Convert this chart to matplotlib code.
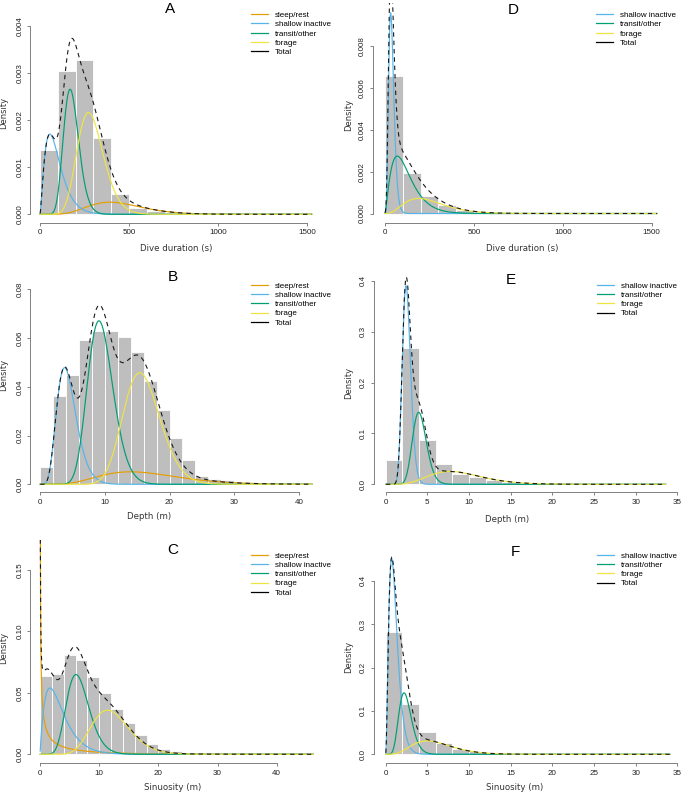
import math
import numpy as np
import matplotlib
matplotlib.use("Agg")
import matplotlib.pyplot as plt
from matplotlib.lines import Line2D

W, H = 685, 794

state_names = ["sleep/rest", "shallow inactive", "transit/other", "forage"]
state_colors = ["#E69F00", "#56B4E9", "#009E73", "#F0E442"]

# ---- values ----
# A: dive duration, 4 states (sleep, shallow, transit, forage)
a_bin = 100
a_hist = [0.00137, 0.00304, 0.00328, 0.00162, 0.00044, 0.00014, 0.00007, 0.00003, 0.00001, 0.00001]
a_mean = [450, 92.5, 179.8, 292]
a_sd = [160, 58.5, 44, 76]
a_weight = [0.0975, 0.204, 0.285, 0.399]

# D: dive duration, 3 states (shallow, transit, forage)
d_bin = 100
d_hist = [0.00657, 0.00194, 0.00083, 0.00040, 0.00015, 0.00006, 0.00003, 0.00001]
d_mean = [38.6, 118.3, 253]
d_sd = [16, 76.4, 126.6]
d_weight = [0.356, 0.425, 0.203]

# B: depth, 4 states
b_bin = 2
b_hist = [0.0071, 0.0362, 0.0448, 0.0592, 0.0630, 0.0630, 0.0605, 0.0544, 0.0425, 0.0304,
          0.0188, 0.0099, 0.0034, 0.0023, 0.0016, 0.0010, 0.0006, 0.0004, 0.0002, 0.0001, 0.0001]
b_mean = [16.55, 4.38, 9.52, 15.93]
b_sd = [6.5, 1.6, 2.0, 2.9]
b_weight = [0.078, 0.181, 0.330, 0.328]

# E: depth, 3 states
e_bin = 2
e_hist = [0.047, 0.267, 0.088, 0.039, 0.021, 0.0138, 0.0079, 0.0046, 0.0025, 0.0012, 0.0006, 0.0003]
e_mean = [2.54, 4.135, 8.99]
e_sd = [0.51, 0.85, 3.4]
e_weight = [0.49, 0.296, 0.202]

# C: sinuosity, 4 states
c_bin = 2
c_hist = [0.064, 0.0654, 0.0811, 0.0768, 0.0632, 0.0502, 0.0369, 0.0252, 0.0157, 0.0081,
          0.0046, 0.0024, 0.0011, 0.0005, 0.0002]
c_mean = [3.0, 3.38, 6.68, 12.29]
c_sd = [5.48, 2.39, 2.0, 3.3]
c_weight = [0.14, 0.248, 0.313, 0.288]

# F: sinuosity, 3 states
f_bin = 2
f_hist = [0.281, 0.1167, 0.0507, 0.0253, 0.013, 0.0069, 0.0035, 0.0017, 0.0008, 0.0004]
f_mean = [1.08, 2.46, 6.1]
f_sd = [0.624, 0.8, 2.6]
f_weight = [0.60, 0.271, 0.186]


def gamma_pdf(x, mean, sd):
    k = (mean / sd) ** 2
    theta = sd ** 2 / mean
    return np.exp((k - 1) * np.log(x) - x / theta - math.lgamma(k) - k * np.log(theta))


def px(x, y):
    return x / W, 1 - y / H


fig = plt.figure(figsize=(W / 100, H / 100), dpi=100)


def panel(p):
    L, R, T, B = p["box"]
    ax = fig.add_axes([L / W, 1 - B / H, (R - L) / W, (B - T) / H])
    (x0p, x0v), (x1p, x1v) = p["xmap"]
    (y0p, y0v), (y1p, y1v) = p["ymap"]
    bx = (x1p - x0p) / (x1v - x0v)
    by = (y1p - y0p) / (y1v - y0v)
    ax.set_xlim((L - x0p) / bx + x0v, (R - x0p) / bx + x0v)
    ax.set_ylim((B - y0p) / by + y0v, (T - y0p) / by + y0v)

    hist = p["hist"]
    edges = np.arange(len(hist)) * p["bin"]
    ax.bar(edges, hist, width=p["bin"], align="edge", color="#BEBEBE",
           edgecolor="white", linewidth=0.6, zorder=1)

    x = np.linspace(p["xmax"] / 1500, p["xmax"], 1500)
    total = np.zeros_like(x)
    for s, m, sd, w in zip(p["states"], p["mean"], p["sd"], p["weight"]):
        yy = w * gamma_pdf(x, m, sd)
        total += yy
        ax.plot(x, yy, color=state_colors[s], lw=0.85, zorder=2)
    ax.plot(x, total, color="#1a1a1a", lw=0.8, ls=(0, (4, 3.5)), zorder=3)

    for side in ["top", "right"]:
        ax.spines[side].set_visible(False)
    for side in ["left", "bottom"]:
        ax.spines[side].set_color("#808080")
        ax.spines[side].set_linewidth(0.7)
    ax.spines["bottom"].set_bounds(p["xticks"][0], p["xticks"][-1])
    ax.spines["left"].set_bounds(p["yticks"][0], p["yticks"][-1])
    ax.set_xticks(p["xticks"], labels=[str(t) for t in p["xticks"]])
    ax.set_yticks(p["yticks"], labels=p["ylabels"])
    ax.tick_params(length=1.9, width=0.7, color="#808080", labelsize=5.8,
                   labelcolor="#222222")
    ax.tick_params(axis="x", pad=2.6)
    ax.tick_params(axis="y", pad=p["ypad"], labelrotation=90)
    for lab in ax.get_yticklabels() + ax.get_xticklabels():
        lab.set_family("Liberation Sans")
    for lab in ax.get_yticklabels():
        lab.set_va("center")

    handles = [Line2D([], [], color=state_colors[s], lw=0.9) for s in p["states"]]
    handles.append(Line2D([], [], color="black", lw=0.9))
    labels = [state_names[s] for s in p["states"]] + ["Total"]
    ax.legend(handles, labels, loc="upper left", bbox_to_anchor=px(*p["leg"]),
              bbox_transform=fig.transFigure, frameon=False,
              prop={"family": "Liberation Sans", "size": 5.8},
              handlelength=2.1, handletextpad=0.9, labelspacing=0.2,
              borderpad=0, borderaxespad=0)

    fig.text(*px(*p["title_xy"]), p["title"], fontsize=11, family="Liberation Sans",
             ha="center", va="center")
    fig.text(*px(*p["xlab_xy"]), p["xlabel"], fontsize=6.2, ha="center", va="center",
             color="#333333")
    fig.text(*px(*p["ylab_xy"]), "Density", fontsize=6.0, ha="center", va="center",
             rotation=90, color="#333333")


panels = [
    dict(box=(29.5, 325, 5, 222.7), xmap=((40, 0), (307, 1500)), ymap=((214.3, 0), (25.6, 0.004)),
         hist=a_hist, bin=a_bin, states=[0, 1, 2, 3], mean=a_mean, sd=a_sd, weight=a_weight,
         xmax=1526, xticks=[0, 500, 1000, 1500], yticks=[0, 0.001, 0.002, 0.003, 0.004],
         ylabels=["0.000", "0.001", "0.002", "0.003", "0.004"], ypad=2.4,
         leg=(250.7, 11.4), title="A", title_xy=(170, 9), xlabel="Dive duration (s)",
         xlab_xy=(176, 248.3), ylab_xy=(4, 113)),
    dict(box=(373.3, 680, 3, 222.7), xmap=((385, 0), (651.7, 1500)), ymap=((213.5, 0), (46, 0.008)),
         hist=d_hist, bin=d_bin, states=[1, 2, 3], mean=d_mean, sd=d_sd, weight=d_weight,
         xmax=1530, xticks=[0, 500, 1000, 1500], yticks=[0, 0.002, 0.004, 0.006, 0.008],
         ylabels=["0.000", "0.002", "0.004", "0.006", "0.008"], ypad=3.3,
         leg=(595.7, 11.4), title="D", title_xy=(513, 10), xlabel="Dive duration (s)",
         xlab_xy=(521.7, 248.3), ylab_xy=(348.3, 115)),
    dict(box=(29.5, 325, 270, 492.3), xmap=((40, 0), (299, 40)), ymap=((484.3, 0), (289.3, 0.08)),
         hist=b_hist, bin=b_bin, states=[0, 1, 2, 3], mean=b_mean, sd=b_sd, weight=b_weight,
         xmax=42, xticks=[0, 10, 20, 30, 40], yticks=[0, 0.02, 0.04, 0.06, 0.08],
         ylabels=["0.00", "0.02", "0.04", "0.06", "0.08"], ypad=2.4,
         leg=(250.7, 282), title="B", title_xy=(173, 277), xlabel="Depth (m)",
         xlab_xy=(149, 516.7), ylab_xy=(4, 375)),
    dict(box=(374, 682, 270, 492.3), xmap=((385.7, 0), (677.3, 35)), ymap=((484.3, 0), (280.7, 0.4)),
         hist=e_hist, bin=e_bin, states=[1, 2, 3], mean=e_mean, sd=e_sd, weight=e_weight,
         xmax=33.6, xticks=[0, 5, 10, 15, 20, 25, 30, 35], yticks=[0, 0.1, 0.2, 0.3, 0.4],
         ylabels=["0.0", "0.1", "0.2", "0.3", "0.4"], ypad=3.3,
         leg=(596.7, 282), title="E", title_xy=(511, 280), xlabel="Depth (m)",
         xlab_xy=(506.7, 519.3), ylab_xy=(348.3, 383)),
    dict(box=(30, 325, 540, 763.3), xmap=((40, 0), (276.7, 40)), ymap=((754.3, 0), (570, 0.15)),
         hist=c_hist, bin=c_bin, states=[0, 1, 2, 3], mean=c_mean, sd=c_sd, weight=c_weight,
         xmax=46.2, xticks=[0, 10, 20, 30, 40], yticks=[0, 0.05, 0.10, 0.15],
         ylabels=["0.00", "0.05", "0.10", "0.15"], ypad=2.4,
         leg=(250.7, 552), title="C", title_xy=(172.7, 550), xlabel="Sinuosity (m)",
         xlab_xy=(172.7, 787.3), ylab_xy=(4, 648)),
    dict(box=(374, 682, 540, 763.3), xmap=((385.7, 0), (677.3, 35)), ymap=((754.3, 0), (580.7, 0.4)),
         hist=f_hist, bin=f_bin, states=[1, 2, 3], mean=f_mean, sd=f_sd, weight=f_weight,
         xmax=34.1, xticks=[0, 5, 10, 15, 20, 25, 30, 35], yticks=[0, 0.1, 0.2, 0.3, 0.4],
         ylabels=["0.0", "0.1", "0.2", "0.3", "0.4"], ypad=3.3,
         leg=(596.7, 552), title="F", title_xy=(515.7, 551.7), xlabel="Sinuosity (m)",
         xlab_xy=(515, 787.7), ylab_xy=(348.3, 656.7)),
]

for p in panels:
    panel(p)

fig.savefig("out.png", dpi=100)
